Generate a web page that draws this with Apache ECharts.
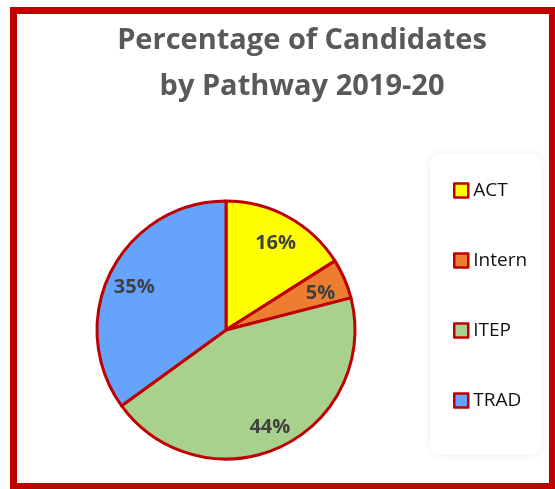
<!DOCTYPE html>
<html>
<head>
<meta charset="utf-8">
<script src="https://cdn.jsdelivr.net/npm/echarts@6/dist/echarts.min.js"></script>
<style>
  html, body { margin: 0; padding: 0; background: #fff; }
  #chart { width: 555px; height: 489px; }
</style>
</head>
<body>
<div id="chart"></div>
<script>
// pathways and their share of candidates (%)
const pathways = ["ACT", "Intern", "ITEP", "TRAD"];
const shares = [16, 5, 44, 35];
const sliceColors = ["#FFFF00", "#ED7D31", "#A9D18E", "#65A3FC"];

const myChart = echarts.init(document.getElementById("chart"));

const pieData = pathways.map((name, i) => ({
  name: name,
  value: shares[i],
  itemStyle: { color: sliceColors[i] },
}));

const option = {
  animation: false,
  title: {
    text: "Percentage of Candidates\nby Pathway 2019-20",
    left: 297,
    top: 13,
    textAlign: "center",
    textStyle: {
      fontFamily: "Open Sans",
      fontWeight: "bold",
      fontSize: 29,
      lineHeight: 46,
      color: "#595959",
    },
  },
  legend: {
    orient: "vertical",
    left: 430,
    top: 154,
    itemWidth: 14,
    itemHeight: 14,
    itemGap: 51,
    icon: "rect",
    padding: [27, 14, 45, 23],
    backgroundColor: "#fff",
    shadowColor: "rgba(0,0,0,0.08)",
    shadowBlur: 8,
    borderRadius: 10,
    data: pathways,
    itemStyle: { borderColor: "#C00000", borderWidth: 2.5 },
    textStyle: {
      fontFamily: "Open Sans",
      fontSize: 19,
      color: "#111",
    },
  },
  graphic: [
    {
      type: "rect",
      shape: { x: 13.5, y: 10.5, width: 539, height: 476 },
      style: { fill: null, stroke: "#C00000", lineWidth: 7 },
      z: 100,
    },
  ],
  series: [
    {
      type: "pie",
      center: [226, 330],
      radius: [0, 129],
      startAngle: 90,
      clockwise: true,
      silent: true,
      itemStyle: { borderColor: "#C00000", borderWidth: 3 },
      label: { show: false },
      labelLine: { show: false },
      data: pieData,
    },
    {
      // transparent copy that only carries the percentage labels
      type: "pie",
      center: [226, 334],
      radius: [0, 200],
      startAngle: 90,
      clockwise: true,
      silent: true,
      z: 5,
      itemStyle: { color: "rgba(0,0,0,0)", borderWidth: 0 },
      label: {
        show: true,
        position: "inside",
        formatter: "{c}%",
        fontFamily: "Open Sans",
        fontWeight: "bold",
        fontSize: 20,
        color: "#404040",
      },
      labelLine: { show: false },
      data: pathways.map((name, i) => ({ name: name, value: shares[i] })),
    },
  ],
};

myChart.setOption(option);
</script>
</body>
</html>
